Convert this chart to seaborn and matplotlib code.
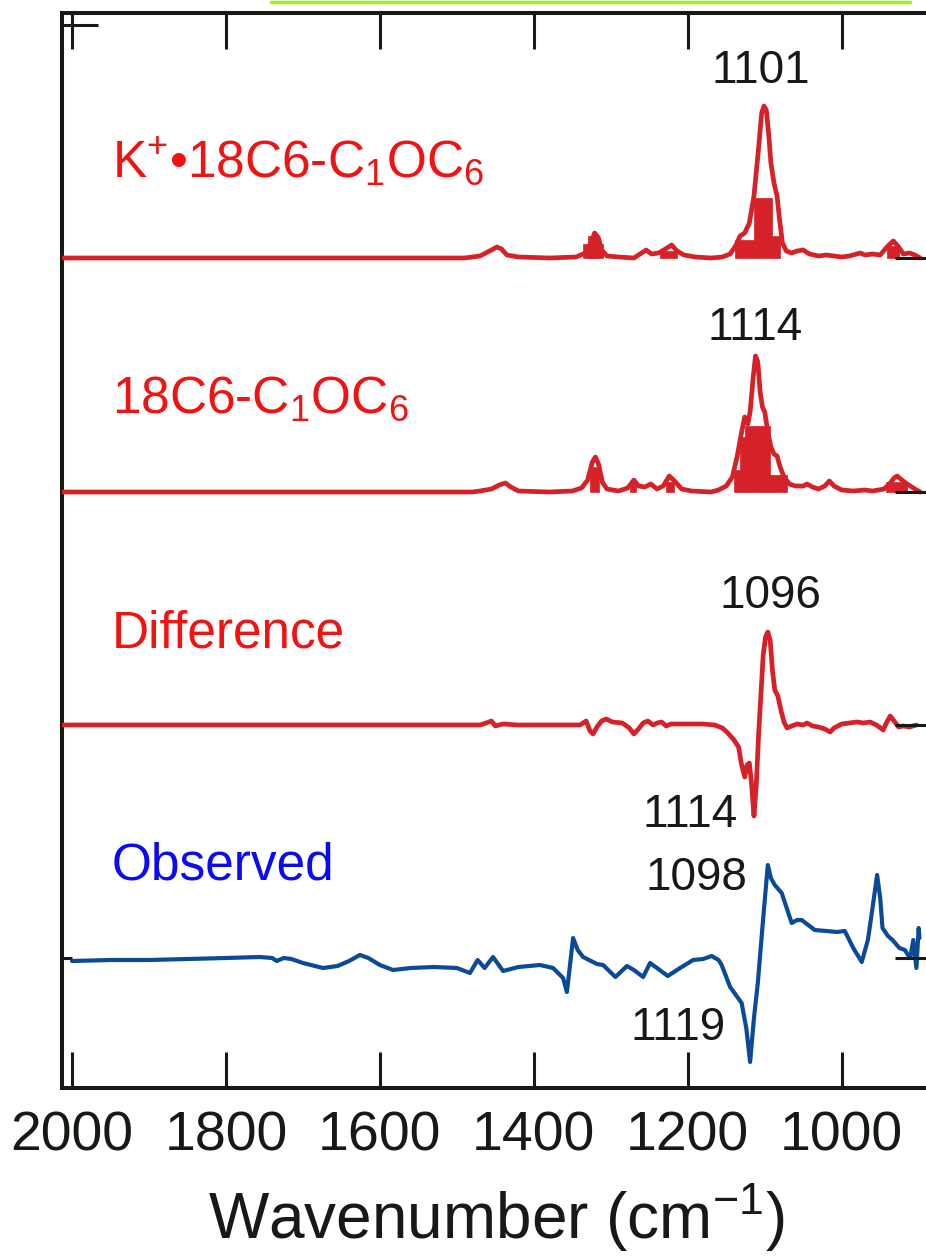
import numpy as np
import pandas as pd
import matplotlib
matplotlib.use("Agg")
import matplotlib.pyplot as plt
import seaborn as sns
from matplotlib.lines import Line2D

# ---------------- data (intensity in arbitrary units) ----------------
k_wn = [2013, 1490, 1470, 1455, 1448, 1442, 1435, 1420, 1380, 1345, 1333, 1326, 1321, 1316, 1312,
        1305, 1290, 1270, 1262, 1254, 1247, 1238, 1229, 1221, 1214, 1205, 1190, 1170, 1155, 1145,
        1138, 1132, 1126, 1120, 1114, 1108, 1104, 1101, 1098, 1095, 1092, 1088, 1084, 1081, 1077,
        1072, 1065, 1058, 1050, 1042, 1030, 1020, 1000, 990, 976, 970, 960, 950, 940, 933, 927,
        920, 912, 905, 898]
k_int = [0, 0, 2, 8, 11, 9, 3, 1, 0, 1, 5, 15, 25, 20, 8,
         2, 1, 0, 4, 8, 4, 5, 9, 13, 7, 3, 1, 0, 1, 4,
         12, 22, 25, 35, 62, 110, 145, 152, 148, 125, 95, 75, 62, 40, 15,
         7, 5, 7, 8, 4, 2, 3, 1, 2, 5, 3, 4, 3, 12, 17, 12,
         4, 5, 3, 0]
k_bar_left = [1336, 1329, 1236, 1138, 1114, 1091, 941]
k_bar_right = [1310, 1318, 1214, 1114, 1091, 1080, 925]
k_bar_h = [14, 22, 7, 18, 60, 22, 12]

c_wn = [2013, 1480, 1470, 1455, 1445, 1437, 1430, 1420, 1380, 1350, 1338, 1330, 1324, 1320, 1316,
        1311, 1305, 1290, 1278, 1270, 1264, 1256, 1248, 1240, 1232, 1224, 1216, 1208, 1195, 1170,
        1160, 1150, 1142, 1136, 1130, 1126, 1122, 1119, 1115, 1112, 1109, 1106, 1103, 1100, 1096,
        1092, 1088, 1084, 1080, 1075, 1068, 1060, 1050, 1045, 1038, 1030, 1022, 1016, 1010, 1000,
        985, 970, 960, 945, 938, 932, 928, 922, 915, 905, 898]
c_int = [0, 0, 1, 3, 7, 9, 5, 1, 0, 1, 4, 12, 30, 35, 28,
         10, 3, 1, 4, 12, 6, 5, 8, 3, 6, 16, 10, 3, 1, 0,
         2, 6, 15, 35, 60, 75, 68, 80, 115, 136, 130, 100, 85, 80, 60,
         45, 38, 36, 25, 15, 8, 6, 6, 8, 5, 3, 6, 11, 6, 2,
         1, 2, 1, 3, 8, 14, 16, 12, 8, 3, 0]
c_bar_left = [1327, 1275, 1228, 1140, 1132, 1126, 1104, 1093, 942]
c_bar_right = [1315, 1267, 1218, 1132, 1126, 1104, 1093, 1071, 915]
c_bar_h = [25, 8, 10, 22, 55, 66, 66, 17, 10]

d_wn = [2013, 1490, 1470, 1462, 1455, 1450, 1440, 1420, 1380, 1340, 1332, 1327, 1323, 1318, 1312,
        1306, 1298, 1285, 1276, 1270, 1264, 1258, 1252, 1245, 1240, 1234, 1228, 1222, 1210, 1180,
        1165, 1155, 1148, 1140, 1134, 1130, 1126, 1123, 1120, 1117, 1114, 1111, 1108, 1105, 1102,
        1099, 1096, 1093, 1090, 1087, 1083, 1079, 1075, 1071, 1065, 1058, 1050, 1045, 1038, 1030,
        1022, 1015, 1010, 1000, 990, 980, 972, 963, 955, 946, 942, 937, 932, 926, 920, 912, 903]
d_int = [0, 0, 0, 2, 4, -1, 1, 0, 0, 0, 4, -6, -9, -2, 4,
         6, 3, 2, -3, -9, -4, 2, 4, 0, 2, 3, -1, 1, 1, 1,
         0, -3, -8, -15, -22, -40, -52, -40, -38, -60, -91, -60, -10, 30, 70,
         88, 93, 85, 55, 35, 29, 15, 3, -3, -1, 1, 0, 2, -1, -2,
         -4, -7, -3, 1, 2, 3, 2, 3, 0, -5, 2, 9, 4, -2, -1, -2, 0]

o_wn = [2000, 1950, 1900, 1850, 1800, 1756, 1740, 1734, 1725, 1715, 1700, 1674, 1655, 1640, 1626,
        1615, 1600, 1583, 1560, 1530, 1500, 1483, 1473, 1464, 1453, 1440, 1420, 1392, 1375, 1362,
        1357, 1349, 1343, 1336, 1318, 1310, 1294, 1279, 1270, 1258, 1249, 1240, 1226, 1210, 1193,
        1180, 1169, 1160, 1156, 1145, 1130, 1124, 1119, 1114, 1109, 1102, 1096, 1092, 1087, 1078,
        1065, 1058, 1052, 1035, 1020, 1006, 996, 985, 974, 966, 960, 954, 950, 947, 940,
        934, 925, 918, 913, 911, 907, 903, 900, 899]
o_int = [-3, -2, -2, -1, 0, 1, 0, -3, 0, -1, -5, -10, -8, -3, 3,
         0, -7, -12, -10, -9, -10, -15, -2, -10, 1, -13, -9, -7, -10, -20,
         -34, 20, 8, 1, -6, -7, -19, -8, -12, -19, -5, -10, -18, -10, -2,
         -1, 2, -2, -7, -29, -45, -70, -104, -60, -25, 40, 93, 80, 73, 65,
         35, 38, 38, 28, 27, 26, 27, 10, -4, 18, 50, 83, 60, 30, 22,
         18, 10, 8, 2, 0, 18, -10, 30, 20]

offsets = [700, 466, 233, 0]
series_names = ["K$^{+}$\u202218C6-C$_{1}$OC$_{6}$", "18C6-C$_{1}$OC$_{6}$", "Difference", "Observed"]
peak_labels = ["1101", "1114", "1096", "1114", "1098", "1119"]
xticks = [2000, 1800, 1600, 1400, 1200, 1000]
xlabel = "Wavenumber (cm$^{-1}$)"

# ---------------- style ----------------
sns.set_style("white")
plt.rcParams["font.family"] = ["Liberation Sans", "DejaVu Sans"]
plt.rcParams["mathtext.fontset"] = "custom"
plt.rcParams["mathtext.rm"] = "Liberation Sans"
plt.rcParams["mathtext.it"] = "Liberation Sans:italic"
plt.rcParams["mathtext.default"] = "regular"

RED = "#d62128"
BLUE = "#0b4a98"
TXT_RED = "#f21212"
TXT_BLUE = "#0a0af5"
INK = "#151a15"

fig = plt.figure(figsize=(9.26, 12.56), dpi=100)
ax = fig.add_axes([62 / 926, 1 - 1088 / 1256, (931 - 62) / 926, (1088 - 13) / 1256])

curves = [(k_wn, k_int, RED), (c_wn, c_int, RED), (d_wn, d_int, RED), (o_wn, o_int, BLUE)]
for (wn, inten, col), off in zip(curves, offsets):
    df = pd.DataFrame({"wn": wn, "y": np.array(inten, float) + off})
    sns.lineplot(data=df, x="wn", y="y", sort=False, estimator=None, color=col,
                 lw=3.4 if col == RED else 3.0, ax=ax, legend=False, zorder=3)

for left, right, h, off in [(k_bar_left, k_bar_right, k_bar_h, offsets[0]),
                            (c_bar_left, c_bar_right, c_bar_h, offsets[1])]:
    left = np.array(left, float)
    right = np.array(right, float)
    ax.bar(right, h, width=left - right, bottom=off, align="edge", color=RED,
           edgecolor=RED, linewidth=0.5, zorder=2)

ax.set_xlim(2013, 884)
ax.set_ylim(-130, 945)

# series labels
lab_y = [780, 545, 310, 78]
lab_col = [TXT_RED, TXT_RED, TXT_RED, TXT_BLUE]
for name, yy, col in zip(series_names, lab_y, lab_col):
    ax.text(1948, yy, name, color=col, fontsize=37, ha="left", va="baseline")

# peak labels
pk_x = [1105, 1112.5, 1093, 1197, 1189, 1213]
pk_y = [875, 618, 350, 131, 68, -82]
for t, xx, yy in zip(peak_labels, pk_x, pk_y):
    ax.text(xx, yy, t, color=INK, fontsize=33, ha="center", va="baseline")

# axes decorations
for s in ax.spines.values():
    s.set_linewidth(2.9)
    s.set_color(INK)
ax.set_xticks(xticks)
ax.set_xticklabels([str(v) for v in xticks])
ax.tick_params(axis="x", which="major", direction="in", length=26, width=2.2,
               top=True, bottom=True, labelsize=40, pad=16, colors=INK)
ax.set_yticks([933])
ax.set_yticks(offsets, minor=True)
ax.tick_params(axis="y", which="major", direction="in", length=26, width=2.2,
               left=True, right=True, labelleft=False, colors=INK)
ax.tick_params(axis="y", which="minor", direction="in", length=7, width=2.2,
               left=True, right=False, colors=INK)
ax2 = ax.twinx()
ax2.set_ylim(ax.get_ylim())
ax2.set_yticks(offsets)
ax2.tick_params(axis="y", direction="in", length=26, width=2.2, right=True,
                labelright=False, colors=INK)
ax2.spines[:].set_visible(False)

ax.set_xlabel(xlabel, fontsize=46, labelpad=14, color=INK)
ax.set_ylabel("")

# green strip at top
fig.add_artist(Line2D([271 / 926, 910 / 926], [1 - 1.5 / 1256, 1 - 1.5 / 1256],
                      transform=fig.transFigure, color="#9ef01e", lw=2.5))

fig.savefig("out.png", dpi=100)
